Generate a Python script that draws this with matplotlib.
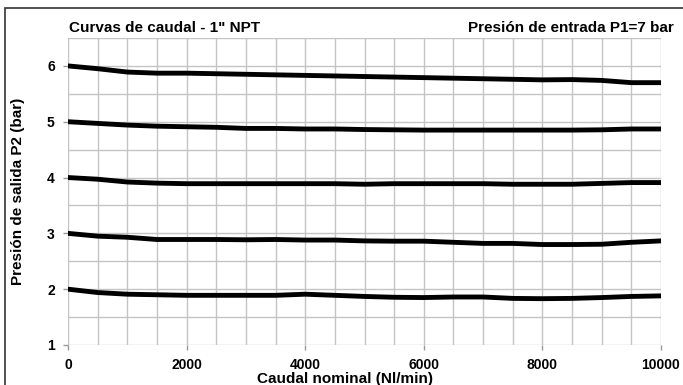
import matplotlib
matplotlib.use("Agg")
import matplotlib.pyplot as plt
from matplotlib.ticker import MultipleLocator
from matplotlib.patches import Rectangle

plt.rcParams['font.family'] = ['Liberation Sans', 'DejaVu Sans']
plt.rcParams['font.weight'] = 'bold'

# Flow (Nl/min) sample points
flow = [0, 500, 1000, 1500, 2000, 2500, 3000, 3500, 4000, 4500, 5000,
        5500, 6000, 6500, 7000, 7500, 8000, 8500, 9000, 9500, 10000]

# Outlet pressure P2 (bar) for each set point
p2_6 = [6.00, 5.95, 5.89, 5.87, 5.87, 5.86, 5.85, 5.84, 5.83, 5.82, 5.81,
        5.80, 5.79, 5.78, 5.77, 5.76, 5.75, 5.755, 5.74, 5.70, 5.70]
p2_5 = [5.00, 4.97, 4.94, 4.92, 4.91, 4.90, 4.88, 4.88, 4.87, 4.87, 4.86,
        4.855, 4.85, 4.85, 4.85, 4.85, 4.85, 4.85, 4.855, 4.87, 4.87]
p2_4 = [4.00, 3.97, 3.92, 3.90, 3.89, 3.89, 3.89, 3.89, 3.89, 3.89, 3.88,
        3.89, 3.89, 3.89, 3.89, 3.88, 3.88, 3.88, 3.895, 3.91, 3.91]
p2_3 = [3.00, 2.95, 2.93, 2.89, 2.89, 2.89, 2.885, 2.89, 2.88, 2.88, 2.865,
        2.86, 2.86, 2.84, 2.82, 2.82, 2.80, 2.80, 2.805, 2.84, 2.865]
p2_2 = [2.00, 1.94, 1.91, 1.90, 1.89, 1.89, 1.89, 1.89, 1.91, 1.89, 1.87,
        1.855, 1.85, 1.86, 1.86, 1.835, 1.83, 1.835, 1.85, 1.87, 1.88]

x_ticks = [0, 2000, 4000, 6000, 8000, 10000]
y_ticks = [1, 2, 3, 4, 5, 6]

W, H = 683, 385
fig = plt.figure(figsize=(W / 100, H / 100), dpi=100)

# outer frame
fig.patches.append(Rectangle((5 / W, -0.05), 1.0, 1 - 8 / H + 0.05,
                             transform=fig.transFigure, fill=False,
                             edgecolor='#333333', linewidth=1.2))

ax = fig.add_axes([68 / W, 40 / H, 593 / W, 307 / H])
for s in ax.spines.values():
    s.set_visible(False)

for series in (p2_6, p2_5, p2_4, p2_3, p2_2):
    ax.plot(flow, series, color='black', linewidth=3.5,
            solid_capstyle='round', solid_joinstyle='round', zorder=3)

ax.set_xlim(0, 10000)
ax.set_ylim(1, 6.5)
ax.set_xticks(x_ticks)
ax.set_yticks(y_ticks)
ax.xaxis.set_minor_locator(MultipleLocator(500))
ax.yaxis.set_minor_locator(MultipleLocator(0.5))
ax.grid(True, which='both', color='#c4c4c4', linewidth=1.0, zorder=0)
ax.set_axisbelow(True)
ax.tick_params(which='major', length=3.5, color='#999999', width=1,
               labelsize=10)
ax.tick_params(axis='x', which='major', pad=6)
ax.tick_params(axis='y', which='major', pad=6)
ax.tick_params(which='minor', length=0)
for lab in ax.get_xticklabels() + ax.get_yticklabels():
    lab.set_fontweight('bold')

ax.set_xlabel('Caudal nominal (Nl/min)', fontsize=11, fontweight='bold')
ax.xaxis.set_label_coords((345 - 68) / 593, -34 / 307)
ax.xaxis.label.set_va('center')
ax.set_ylabel('Presión de salida P2 (bar)', fontsize=11, fontweight='bold')
ax.yaxis.set_label_coords((18 - 68) / 593, 0.5)
ax.yaxis.label.set_va('center')

fig.text(69 / W, (H - 32) / H, 'Curvas de caudal - 1" NPT', fontsize=11,
         fontweight='bold', ha='left', va='baseline')
fig.text(674 / W, (H - 32) / H, 'Presión de entrada P1=7 bar', fontsize=11,
         fontweight='bold', ha='right', va='baseline')

fig.savefig('out.png', dpi=100)
